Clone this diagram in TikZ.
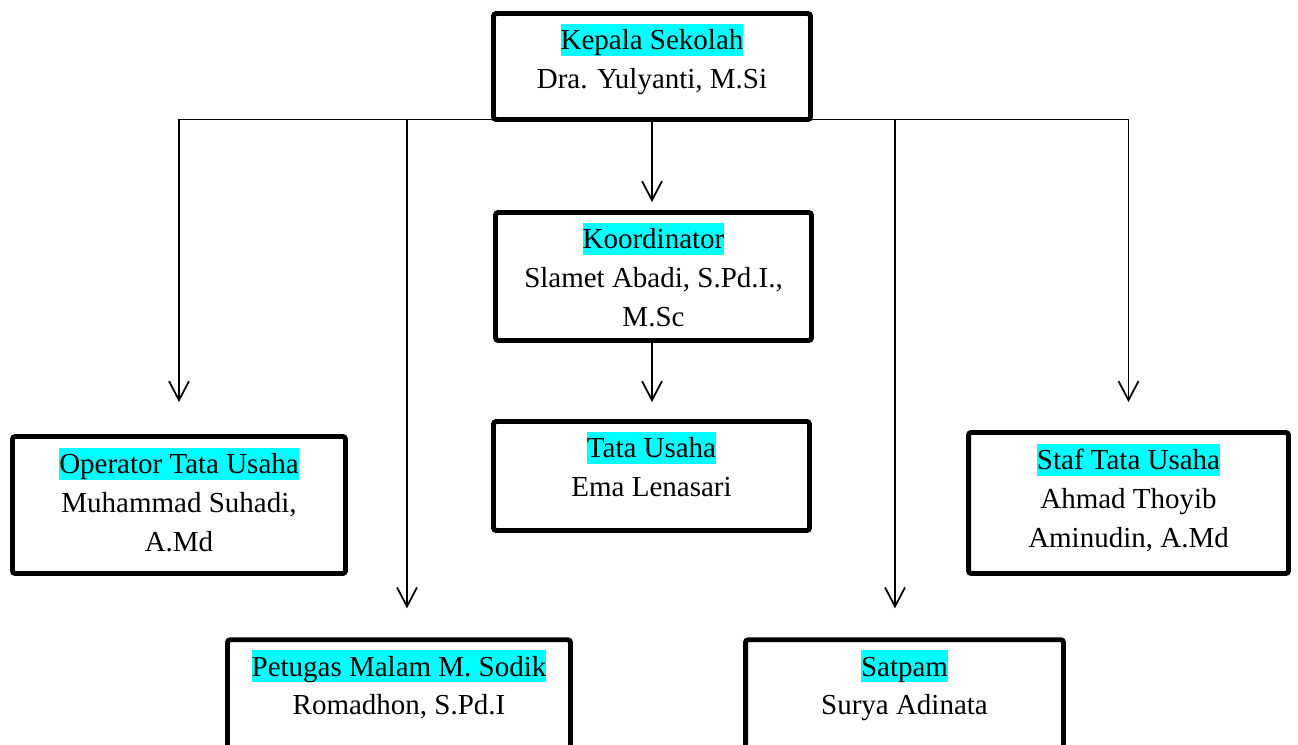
\documentclass[tikz,border=0pt]{standalone}
\usepackage{fontspec}
\setmainfont{Liberation Serif}
\usepackage{xcolor}
\usepackage{tikz}
\usetikzlibrary{arrows.meta,positioning}
\definecolor{ink}{HTML}{000000}
\definecolor{hlcyan}{HTML}{00FFFF}
\newcommand{\hlt}[1]{{\setlength{\fboxsep}{0pt}\colorbox{hlcyan}{\rule[-0.216em]{0pt}{1.107em}#1}}}
\tikzset{
  orgbox/.style={draw=ink,fill=white,line width=2.8pt,rounded corners=1.5pt,inner sep=0pt,outer sep=0pt},
  txt/.style={align=center,inner sep=0pt,outer sep=0pt,text=ink,font=\fontsize{16.5}{22}\selectfont},
  conn/.style={draw=ink,line width=1pt},
  arrow/.style={conn,-{Straight Barb[length=3.8mm,width=4mm]}},
}

\begin{document}
\begin{tikzpicture}[x=0.02cm,y=-0.02cm]
    \useasboundingbox (0,0) rectangle (1298,744);
    \clip (0,0) rectangle (1298,744);
    % boxes
    \node[orgbox,minimum width=6.34cm,minimum height=2.12cm] (kepala) at (652,66.5) {};
    \node[orgbox,minimum width=6.32cm,minimum height=2.56cm] (koord) at (653.5,276.5) {};
    \node[orgbox,minimum width=6.32cm,minimum height=2.18cm] (tata) at (651.5,476) {};
    \node[orgbox,minimum width=6.66cm,minimum height=2.74cm] (operator) at (179,505) {};
    \node[orgbox,minimum width=6.40cm,minimum height=2.82cm] (staf) at (1128.5,503) {};
    \node[orgbox,minimum width=6.86cm,minimum height=3.21cm] (petugas) at (399,720) {};
    \node[orgbox,minimum width=6.36cm,minimum height=3.21cm] (satpam) at (904.5,720) {};
    % texts
    \node[txt,below=0.21cm of kepala.north] (kepalaTxt) {\hlt{Kepala Sekolah}\\Dra. Yulyanti, M.Si};
    \node[txt,below=0.21cm of koord.north] (koordTxt) {\hlt{Koordinator}\\Slamet Abadi, S.Pd.I.,\\M.Sc};
    \node[txt,below=0.21cm of tata.north] (tataTxt) {\hlt{Tata Usaha}\\Ema Lenasari};
    \node[txt,below=0.23cm of operator.north] (operatorTxt) {\hlt{Operator Tata Usaha}\\Muhammad Suhadi,\\A.Md};
    \node[txt,below=0.23cm of staf.north] (stafTxt) {\hlt{Staf Tata Usaha}\\Ahmad Thoyib\\Aminudin, A.Md};
    \node[txt,below=0.21cm of petugas.north] (petugasTxt) {\hlt{Petugas Malam M. Sodik}\\Romadhon, S.Pd.I};
    \node[txt,below=0.21cm of satpam.north] (satpamTxt) {\hlt{Satpam}\\Surya Adinata};
    % connectors
    \coordinate (ptgTop) at ([xshift=0.16cm]petugas.north);
    \coordinate (satTop) at ([xshift=-0.19cm]satpam.north);
    \coordinate (koordBot) at (koord.south -| kepala.south);
    \draw[conn] (kepala.south -| operator.north) -- (kepala.south -| staf.north);
    \draw[arrow,shorten >=0.69cm] (kepala.south -| operator.north) -- (operator.north);
    \draw[arrow,shorten >=0.61cm] (kepala.south -| staf.north) -- (staf.north);
    \draw[arrow,shorten >=0.63cm] (kepala.south -| ptgTop) -- (ptgTop);
    \draw[arrow,shorten >=0.63cm] (kepala.south -| satTop) -- (satTop);
    \draw[arrow,shorten >=0.21cm] (kepala.south) -- (kepala.south |- koord.north);
    \draw[arrow,shorten >=0.39cm] (koordBot) -- (koordBot |- tata.north);
\end{tikzpicture}
\end{document}
